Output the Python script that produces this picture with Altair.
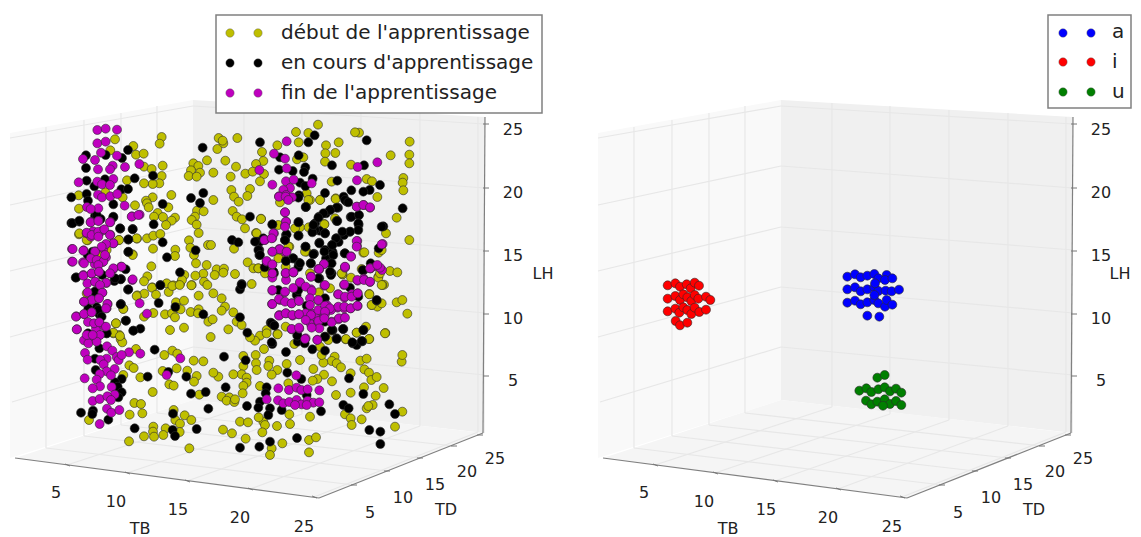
import altair as alt
import pandas as pd

# ---- scatter values (zoomed crop units, 3 per picture pixel) ----
A_M = [(292,60),(317,56),(351,59),(292,100),(317,95),(249,147),(285,150),(303,128),(351,137),(418,162),(294,178),(338,167),(330,178),(375,171),(236,217),(292,215),(306,223),(340,207),(330,225),(294,254),(306,262),(331,259),(352,252),(374,287),(261,291),(295,295),(272,297),(396,319),(419,314),(272,336),(296,332),(331,336),(260,370),(279,364),(296,371),(307,362),(331,374),(273,380),(340,400),(216,417),(251,421),(310,416),(285,424),(318,442),(216,455),(249,457),(284,462),(308,456),(340,477),(363,470),(250,495),(275,491),(297,486),(262,520),(287,516),(319,519),(397,510),(331,490)]
A_K = [(258,136),(317,135),(384,120),(366,144),(258,174),(260,212),(315,208),(283,229),(404,205),(459,197),(364,238),(384,237),(214,262),(260,252),(264,272),(340,283),(488,282),(573,264),(610,249),(600,279),(214,339),(238,335),(285,318),(302,327),(340,322),(361,356),(398,357),(461,343),(385,389),(488,397),(385,426),(263,435),(501,442),(587,421),(608,113),(377,478),(229,502),(343,513),(363,507),(307,495),(540,487),(481,525)]
A_Y = [(345,88),(485,81),(479,101),(400,108),(408,134),(431,131),(331,121),(488,167),(432,170),(455,177),(485,198),(478,220),(458,222),(432,220),(381,211),(580,160),(595,168),(621,151),(573,181),(600,188),(566,198),(590,200),(236,256),(316,247),(368,262),(458,262),(514,255),(438,272),(441,280),(446,292),(505,292),(405,286),(237,296),(473,309),(489,321),(462,320),(525,323),(515,332),(498,345),(591,302),(611,304),(585,320),(575,330),(590,344),(596,369),(237,373),(263,391),(357,390),(411,386),(441,385),(460,377),(481,372),(567,391),(571,413),(459,416),(526,419),(582,435),(525,438),(398,433),(624,405),(588,460),(620,465),(454,469),(442,499),(432,514),(610,491),(586,497),(553,495),(540,522),(546,510),(500,520),(520,526),(575,525),(612,515),(622,525),(457,532),(320,420)]

B_M = [(263,37),(307,38),(252,65),(274,60),(296,55),(323,72),(320,85),(229,109),(253,103),(275,97),(441,101),(419,70),(264,126),(297,128),(288,146),(313,140),(231,148),(277,175),(300,165),(252,181),(265,190),(290,185),(321,199),(255,219),(263,239),(337,212),(350,231),(320,236),(301,240),(311,253),(356,240),(387,217),(421,221),(365,225),(541,235),(344,267),(320,274),(299,282),(333,286),(500,285),(254,295),(290,299),(300,319),(278,325),(335,321),(344,344),(278,363),(299,357),(322,349),(333,360),(321,386),(334,398),(358,390),(299,432)]
B_K = [(285,35),(384,29),(481,16),(363,72),(476,69),(526,81),(265,85),(290,82),(298,103),(377,122),(400,152),(421,146),(610,103),(264,160),(320,160),(298,205),(464,209),(285,236),(287,270),(505,276),(443,290),(559,290),(365,297),(345,307),(353,320),(365,337),(355,352),(617,336),(573,341),(625,386),(243,398),(279,392),(277,402),(519,401),(325,419),(404,445),(590,447),(518,450),(525,468)]
B_Y = [(412,46),(433,41),(456,23),(468,44),(506,36),(517,18),(539,15),(574,16),(596,47),(528,67),(552,62),(370,86),(534,84),(542,88),(495,103),(516,100),(460,99),(432,110),(525,112),(572,96),(596,88),(594,100),(625,125),(348,130),(510,150),(552,143),(340,160),(358,165),(362,178),(367,187),(408,207),(493,225),(517,212),(532,221),(581,242),(610,244),(388,256),(401,264),(530,265),(562,272),(488,273),(590,288),(582,305),(421,292),(370,285),(508,313),(521,317),(458,336),(598,344),(403,369),(423,372),(389,404),(427,400),(521,390),(554,406),(526,420),(574,420),(540,431),(267,420),(460,440),(497,445),(459,455),(539,456),(462,470),(490,465),(432,469),(387,484),(568,505)]

C_M = [(260,94),(222,131),(255,146),(178,180),(260,175),(473,171),(532,157),(217,224),(258,214),(281,209),(335,220),(471,211),(270,234),(250,240),(237,259),(258,255),(276,262),(471,290),(491,285),(510,293),(255,307),(258,335),(255,347),(222,370),(195,390),(217,384),(472,393),(471,408),(548,402),(238,417),(217,425),(256,426),(453,439),(200,455),(217,464),(372,462),(358,478),(435,471),(511,475),(529,469),(546,480),(280,487),(258,491),(217,503),(333,500),(258,510),(300,518),(432,525),(473,512),(491,506),(510,516)]
C_K = [(180,97),(344,76),(325,97),(500,91),(296,136),(240,142),(316,172),(237,179),(278,183),(312,186),(396,166),(492,166),(338,206),(300,218),(412,212),(316,228),(540,225),(454,241),(509,240),(490,245),(375,249),(297,256),(431,260),(440,275),(318,291),(608,295),(414,293),(392,299),(378,310),(150,320),(357,320),(452,321),(476,316),(410,333),(296,336),(345,340),(476,344),(550,349),(217,344),(340,360),(358,362),(375,370),(450,365),(432,375),(258,375),(296,377),(255,390),(410,385),(190,385),(172,395),(96,390),(115,397),(358,398),(396,405),(416,396),(316,410),(178,420),(178,435),(342,431),(375,420),(398,426),(434,430),(536,415),(278,445),(258,452),(296,458),(332,460),(378,445),(390,460),(194,472),(222,490),(395,490),(490,482),(512,460),(358,505),(125,522)]
C_Y = [(354,44),(288,66),(325,69),(56,84),(112,84),(70,100),(68,92),(52,117),(232,106),(296,97),(378,106),(416,97),(477,68),(465,67),(629,95),(186,126),(376,130),(406,129),(572,136),(628,134),(628,160),(76,152),(190,153),(168,162),(375,155),(453,164),(108,170),(291,148),(310,142),(136,191),(158,185),(192,192),(40,188),(92,200),(180,214),(395,215),(500,207),(516,214),(610,204),(608,218),(610,241),(94,240),(150,237),(102,260),(142,258),(116,275),(40,270),(320,250),(330,270),(361,269),(407,265),(532,261),(98,303),(110,320),(126,328),(183,326),(135,355),(590,323),(168,369),(300,352),(326,352),(373,342),(558,370),(33,405),(102,416),(628,390),(242,440),(268,410),(320,425),(490,428),(536,428),(143,457),(50,478),(72,476),(70,488),(44,495),(105,492),(160,475),(175,475),(155,522),(570,483),(592,487),(535,500),(552,524),(428,493),(240,277),(210,490)]

D_M = [(217,32),(254,37),(280,24),(240,60),(295,62),(275,70),(216,72),(355,62),(333,28),(373,17),(414,43),(433,53),(456,42),(473,40),(381,76),(413,83),(433,85),(452,85),(473,78),(393,90),(361,95),(238,105),(258,100),(278,107),(296,103),(334,100),(317,100),(320,120),(345,110),(375,103),(395,125),(415,118),(433,113),(333,133),(355,125),(275,148),(298,146),(317,175),(352,179),(289,286),(235,325),(267,330),(290,323),(304,330),(323,328),(358,331),(200,358),(234,361),(250,370),(268,366),(290,360),(305,373),(323,362),(340,368),(358,367),(285,375),(320,375)]
D_K = [(120,28),(125,15),(530,62),(120,112),(212,128),(222,135),(142,158),(430,147),(490,150),(398,150),(292,165),(375,170),(410,175),(293,185),(314,190),(337,208),(375,212),(458,190),(470,195),(487,184),(217,192),(258,216),(72,230),(137,241),(262,278),(304,297),(447,295),(77,322),(200,322),(197,340),(490,342),(180,365),(141,378),(175,383),(210,385),(205,405),(245,390),(320,345),(363,394),(430,375),(446,385),(568,373),(585,402),(508,450),(541,455),(541,492),(291,474),(210,485),(178,500),(120,503)]
D_Y = [(40,40),(65,55),(75,80),(65,92),(100,97),(38,118),(85,148),(32,171),(110,125),(125,135),(180,167),(165,182),(150,172),(200,150),(232,162),(283,192),(192,207),(167,225),(130,228),(208,242),(205,258),(168,250),(170,270),(130,258),(125,283),(100,283),(55,290),(40,278),(140,293),(140,308),(130,318),(128,340),(65,350),(88,352),(80,362),(103,366),(180,318),(232,270),(215,284),(260,252),(300,240),(340,267),(372,284),(352,297),(338,302),(396,304),(265,310),(408,345),(452,338),(452,280),(493,268),(507,278),(514,300),(530,291),(551,324),(527,347),(492,322),(500,385),(518,375),(505,378),(435,403),(452,415),(455,435),(485,418),(585,440),(607,395),(605,245),(607,225),(481,242),(500,236),(404,230),(395,243),(410,250),(423,262),(370,248),(365,225),(268,403),(330,410),(190,425),(176,412),(120,425),(144,427),(195,435),(187,457),(231,438),(270,432),(69,449),(96,460),(137,476),(247,490),(327,480),(348,472),(215,505),(210,525),(327,517),(556,159),(622,101),(590,67),(607,60),(547,15),(515,75),(532,80),(508,42),(470,158),(498,140),(508,177),(437,178),(360,200),(395,152),(385,180),(105,358)]

# closer reads of the three densest clusters
F_M = [(22,25),(62,25),(85,22),(22,75),(60,80),(105,52),(122,65),(138,35),(140,78),(160,12),(180,60),(240,8),(238,58),(220,88),(240,95),(260,95),(278,85),(277,45),(297,45),(315,50),(317,10),(345,8),(22,117),(42,102),(60,110),(80,115),(102,108),(135,100),(160,105),(42,152),(62,145),(82,150),(102,148),(135,120),(138,150),(122,165),(160,135),(180,122),(195,130),(220,125),(238,125),(257,130),(277,122),(180,140),(160,168),(163,190),(140,188),(200,172),(222,160),(240,158),(80,192),(102,188),(120,222),(157,225),(178,160)]
F_K = [(25,20),(100,6),(95,90),(160,40),(198,30),(255,68),(293,15),(335,105),(180,100),(125,122),(20,175),(28,182),(180,170),(180,215),(200,195),(234,192),(295,195),(215,222),(262,232),(290,228),(97,212),(20,232),(100,75),(40,75),(280,95)]
F_Y = [(62,5),(232,28),(195,70),(162,82),(258,38),(340,38),(350,60),(313,88),(320,120),(350,115),(275,203),(312,222),(38,208),(5,205),(243,222),(62,185),(360,205)]
G_K = [(152,36),(130,8),(270,15),(280,22),(245,38),(225,45),(205,55),(190,68),(247,78),(290,65),(312,60),(310,85),(310,105),(285,110),(262,110),(243,130),(232,150),(180,105),(172,112),(210,115),(52,88),(130,82),(95,118),(130,122),(90,135),(15,140),(10,165),(15,180),(152,155),(193,145),(175,178),(208,170),(235,180),(270,175),(115,190),(135,205),(93,198),(168,205),(230,205),(225,230),(55,230),(0,140),(380,95),(175,90)]
G_M = [(72,5),(92,5),(100,15),(90,52),(93,80),(90,95),(55,115),(28,135),(50,130),(305,35),(325,30),(345,37),(305,138),(305,155),(380,148),(288,185),(74,163),(52,170),(95,170),(35,198),(52,208),(207,207),(192,222),(270,215),(345,220),(367,210),(92,234),(115,232)]
G_Y = [(18,72),(195,15),(160,15),(242,12),(5,115),(70,90),(120,100),(100,155),(70,190),(150,170),(328,172),(380,165),(240,70),(208,88),(10,220),(30,235),(165,235),(260,235),(320,222),(375,235)]
H_M = [(62,37),(85,33),(120,37),(185,20),(205,15),(50,68),(65,75),(85,65),(103,58),(120,75),(85,80),(8,117),(40,122),(130,100),(108,102),(95,110),(75,125),(62,145),(8,155),(42,160),(80,150),(100,155),(85,165),(105,135),(155,170),(130,175),(120,190),(40,197),(65,190),(87,185),(75,215),(108,218),(90,225),(188,208),(97,248),(65,270),(42,275),(87,265),(112,282),(108,295),(18,320),(42,312),(65,307),(72,340),(88,337),(108,350),(20,358),(50,375),(68,375)]
H_K = [(8,40),(28,32),(80,15),(130,20),(150,55),(188,58),(175,88),(175,125),(17,203),(68,125),(152,208),(135,205),(175,238),(75,245),(152,283),(85,300),(95,320),(168,332),(190,362),(110,370),(88,375)]
H_Y = [(28,70),(50,90),(147,90),(200,85),(188,135),(92,128),(200,258),(160,297),(138,340),(50,250),(130,368),(150,378)]

E_R = [(113,106),(136,100),(150,110),(170,103),(182,115),(194,98),(207,107),(113,146),(136,138),(150,150),(160,133),(172,142),(184,153),(194,135),(205,146),(228,140),(241,150),(113,184),(136,176),(148,188),(160,172),(172,180),(184,192),(194,173),(208,186),(228,179),(137,213),(150,226),(172,218)]
E_B = [(652,80),(675,73),(692,82),(712,77),(733,72),(745,85),(770,75),(765,90),(787,85),(652,118),(675,112),(692,124),(712,118),(733,112),(745,123),(767,122),(785,124),(807,119),(735,100),(652,158),(675,152),(692,163),(712,157),(733,150),(745,160),(765,170),(770,150),(787,164),(712,197),(748,200),(733,135)]
E_G = [(742,383),(764,375),(688,422),(709,415),(724,426),(745,418),(764,412),(780,424),(798,416),(814,428),(708,452),(724,463),(742,455),(764,448),(780,462),(798,453),(814,465),(759,467)]

# ---- panel frame, in the flat projected plane of the right panel ----
LEFT_WALL = [(598,133,458),(781,100,400)]
BACK_WALL = [(781,100,400),(1073,117,433)]
FLOOR = [(603,458,458),(781,400,481),(907,414,498),(1071,433,433)]
GRID = [
 (634,127,634,448),(672,120,672,436),(709,113,709,425),(745,106,745,413),
 (832,103,832,407),(890,106,890,414),(949,110,949,420),(1008,113,1008,426),(1066,117,1066,432),
 (598,138,781,106),(598,205,781,166),(598,271,781,227),(598,337,781,287),(600,402,781,347),
 (781,106,1073,124),(781,166,1073,188),(781,227,1073,250),(781,287,1073,313),(781,347,1073,375),
 (634,448,942,485),(672,436,975,471),(709,425,1008,458),(745,413,1042,446),
 (832,407,655,465),(890,414,715,473),(949,420,775,481),(1008,426,838,489),(1066,432,902,497),
]
AXES = [(603,458,907,498),(907,498,1071,433),(1073,117,1071,433)]
TICKS = [(1071,124,1077,124),(1071,188,1077,188),(1071,251,1077,251),(1071,314,1077,314),(1071,376,1077,376),
         (653,464,658,466),(713,472,718,474),(773,480,778,482),(836,488,841,490),(900,496,905,498),
         (939,485,945,485),(972,471,978,471),(1005,458,1011,458),(1039,446,1045,446),(1065,435,1071,435)]
LABELS = [("5",644,493),("10",704,502),("15",766,510),("20",828,518),("25",892,527),
          ("5",958,513),("10",991,498),("15",1023,485),("20",1055,472),("25",1083,459),
          ("5",1101,381),("10",1101,319),("15",1101,256),("20",1101,193),("25",1101,130),
          ("TB",728,529),("TD",1034,510)]
LH_LABELS = [("LH",543,274),("LH",1120,274)]

LEG1 = [(216,15,542,113)]
LEG1_MARK = [(230,33,"#bfbf00"),(258,33,"#bfbf00"),(230,63,"#000000"),(258,63,"#000000"),(230,93,"#bf00bf"),(258,93,"#bf00bf")]
LEG1_TEXT = [("début de l'apprentissage",281,33),("en cours d'apprentissage",281,63),("fin de l'apprentissage",281,93)]
LEG2 = [(1048,15,1131,108)]
LEG2_MARK = [(1063,33,"#0000ff"),(1091,33,"#0000ff"),(1063,62,"#ff0000"),(1091,62,"#ff0000"),(1063,92,"#007f00"),(1091,92,"#007f00")]
LEG2_TEXT = [("a",1112,32),("i",1112,62),("u",1112,92)]
PANEL_SHIFT = 588
W, H = 1125, 529
xs = alt.Scale(domain=[8, 8 + W], nice=False, zero=False)
ys = alt.Scale(domain=[8 + H, 8], nice=False, zero=False)
X = lambda f="x": alt.X(f"{f}:Q", scale=xs, axis=None)
Y = lambda f="y": alt.Y(f"{f}:Q", scale=ys, axis=None)

def crop(pts, ox, oy, minx=0, miny=0):
    return [{"x": ox + a / 3, "y": oy + b / 3} for a, b in pts if a >= minx and b >= miny]

def area(rows, dx, color):
    df = pd.DataFrame([{"x": r[0] - dx, "y": r[1], "y2": r[2]} for r in rows])
    return alt.Chart(df).mark_area(color=color, opacity=1, strokeWidth=0).encode(X(), Y(), y2="y2:Q")

def segs(rows, dx, color, width):
    df = pd.DataFrame([{"x": r[0] - dx, "y": r[1], "x2": r[2] - dx, "y2": r[3]} for r in rows])
    return alt.Chart(df).mark_rule(color=color, strokeWidth=width).encode(X(), Y(), x2="x2:Q", y2="y2:Q")

def texts_at(rows, size, align="center"):
    t = pd.DataFrame([{"t": a, "x": b, "y": c} for a, b, c in rows])
    return alt.Chart(t).mark_text(font="DejaVu Sans", fontSize=size, color="#222222", align=align, baseline="middle").encode(X(), Y(), text="t:N")

def frame(dx):
    return [
        area(LEFT_WALL, dx, "#f9f9f9"), area(BACK_WALL, dx, "#f0f0f0"), area(FLOOR, dx, "#f5f5f5"),
        segs(GRID, dx, "#e7e7e7", 1.2), segs(AXES, dx, "#808080", 1.2), segs(TICKS, dx, "#777777", 1),
        texts_at([(a, b - dx, c) for a, b, c in LABELS], 16),
    ]

def dots(rows, color):
    return alt.Chart(pd.DataFrame(rows)).mark_point(filled=True, size=80, color=color, opacity=1, stroke="#2a2a2a", strokeWidth=0.6).encode(X(), Y())

def legend(box, marks, texts, size):
    b = pd.DataFrame([{"x": a, "y": c, "x2": d, "y2": e} for a, c, d, e in box])
    m = pd.DataFrame([{"x": a, "y": c, "c": d} for a, c, d in marks])
    return [
        alt.Chart(b).mark_rect(fill="#ffffff", stroke="#808080", strokeWidth=1.5).encode(X(), Y(), x2="x2:Q", y2="y2:Q"),
        alt.Chart(m).mark_point(filled=True, size=70, opacity=1, stroke="#555555", strokeWidth=0.4).encode(X(), Y(), color=alt.Color("c:N", scale=None)),
        texts_at(texts, size, "left"),
    ]

def gather(a, b, c, d, f, g, h):
    return (crop(a, 0, 110) + crop(b, 0, 280, miny=15) + crop(c, 200, 110, minx=30) + crop(d, 200, 280, minx=30, miny=15)
            + crop(f, 265, 265) + crop(g, 255, 195) + crop(h, 70, 210))

yellow = gather(A_Y, B_Y, C_Y, D_Y, F_Y, G_Y, H_Y)
black = gather(A_K, B_K, C_K, D_K, F_K, G_K, H_K)
magenta = gather(A_M, B_M, C_M, D_M, F_M, G_M, H_M)

layers = frame(PANEL_SHIFT) + frame(0) + [texts_at(LH_LABELS, 16)]
layers += [dots(yellow, "#bfbf00"), dots(black, "#000000"), dots(magenta, "#bf00bf")]
layers += [dots(crop(E_R, 630, 250), "#ff0000"), dots(crop(E_B, 630, 250), "#0000ff"), dots(crop(E_G, 630, 250), "#007f00")]
layers += legend(LEG1, LEG1_MARK, LEG1_TEXT, 20) + legend(LEG2, LEG2_MARK, LEG2_TEXT, 20)

chart = alt.layer(*layers).properties(width=W, height=H, padding=0, autosize=alt.AutoSizeParams(type="none")).configure_view(stroke=None)
chart.save("out.html", embed_options={"renderer": "svg", "actions": False})
